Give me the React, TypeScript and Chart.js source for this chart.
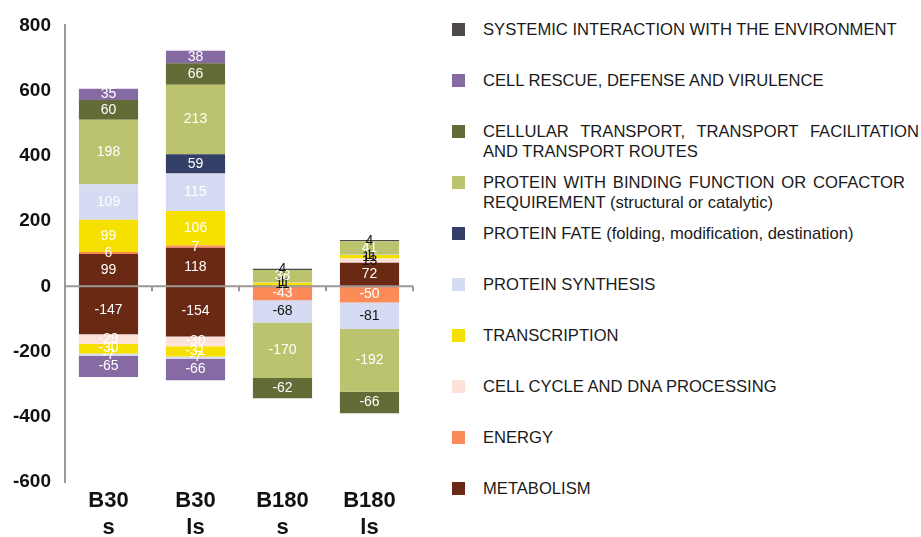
import React, { useEffect, useRef } from "react";
import { Chart, registerables } from "chart.js";

Chart.register(...registerables);

// ---- data ----
const categories = [["B30", "s"], ["B30", "ls"], ["B180", "s"], ["B180", "ls"]];

const seriesNames = [
  "METABOLISM",
  "ENERGY",
  "CELL CYCLE AND DNA PROCESSING",
  "TRANSCRIPTION",
  "PROTEIN SYNTHESIS",
  "PROTEIN FATE (folding, modification, destination)",
  "PROTEIN WITH BINDING FUNCTION OR COFACTOR REQUIREMENT (structural or catalytic)",
  "CELLULAR TRANSPORT, TRANSPORT FACILITATION AND TRANSPORT ROUTES",
  "CELL RESCUE, DEFENSE AND VIRULENCE",
  "SYSTEMIC INTERACTION WITH THE ENVIRONMENT",
];

// legend text split into display lines (same order as seriesNames)
const legendLines = [
  ["METABOLISM"],
  ["ENERGY"],
  ["CELL CYCLE AND DNA PROCESSING"],
  ["TRANSCRIPTION"],
  ["PROTEIN SYNTHESIS"],
  ["PROTEIN FATE (folding, modification, destination)"],
  ["PROTEIN WITH BINDING FUNCTION OR COFACTOR", "REQUIREMENT (structural or catalytic)"],
  ["CELLULAR TRANSPORT, TRANSPORT FACILITATION", "AND TRANSPORT ROUTES"],
  ["CELL RESCUE, DEFENSE AND VIRULENCE"],
  ["SYSTEMIC INTERACTION WITH THE ENVIRONMENT"],
];

const metabolismUp = [99, 118, 0, 72];
const metabolismDown = [-147, -154, 0, 0];
const energyUp = [6, 7, 0, 0];
const energyDown = [0, 0, -43, -50];
const cellCycleUp = [0, 0, 0, 13];
const cellCycleDown = [-29, -30, 0, 0];
const transcriptionUp = [99, 106, 11, 11];
const transcriptionDown = [-30, -31, 0, 0];
const synthesisUp = [109, 115, 1, 1];
const synthesisDown = [-7, -7, -68, -81];
const fateUp = [0, 59, 0, 0];
const fateDown = [0, 0, 0, 0];
const bindingUp = [198, 213, 38, 41];
const bindingDown = [0, 0, -170, -192];
const transportUp = [60, 66, 0, 0];
const transportDown = [0, 0, -62, -66];
const rescueUp = [35, 38, 0, 0];
const rescueDown = [-65, -66, 0, 0];
const systemicUp = [0, 0, 4, 4];
const systemicDown = [0, 0, 0, 0];

const upValues = [metabolismUp, energyUp, cellCycleUp, transcriptionUp, synthesisUp, fateUp, bindingUp, transportUp, rescueUp, systemicUp];
const downValues = [metabolismDown, energyDown, cellCycleDown, transcriptionDown, synthesisDown, fateDown, bindingDown, transportDown, rescueDown, systemicDown];

const yTicks = [-600, -400, -200, 0, 200, 400, 600, 800];

// ---- styles ----
const colors = [
  "#6a2913",
  "#fc8b5a",
  "#fde2da",
  "#f5e000",
  "#d5dbf2",
  "#333f66",
  "#bcc36f",
  "#636b37",
  "#866aa4",
  "#4d4a49",
];
const FONT = '"Liberation Sans", Arial, Helvetica, sans-serif';
const AXIS_GRAY = "#9b9897";

function darkLabel(series: number, cat: number, v: number) {
  if (cat < 2) return false;
  return series === 4 || series === 9 || Math.abs(v) <= 13;
}

const overlayPlugin = {
  id: "overlay",
  afterDatasetsDraw(chart: any) {
    const ctx = chart.ctx;
    const { left, right } = chart.chartArea;
    const y0 = chart.scales.y.getPixelForValue(0);
    const n = categories.length;
    ctx.save();
    // zero line with category boundary ticks
    ctx.strokeStyle = AXIS_GRAY;
    ctx.lineWidth = 2;
    ctx.beginPath();
    ctx.moveTo(left, y0);
    ctx.lineTo(right, y0);
    for (let i = 1; i <= n; i++) {
      const x = left + ((right - left) * i) / n;
      ctx.moveTo(x, y0);
      ctx.lineTo(x, y0 + 5);
    }
    ctx.stroke();
    // segment labels
    ctx.font = `14px ${FONT}`;
    ctx.textAlign = "center";
    ctx.textBaseline = "middle";
    chart.data.datasets.forEach((ds: any, di: number) => {
      const meta = chart.getDatasetMeta(di);
      meta.data.forEach((bar: any, i: number) => {
        const v = ds.data[i];
        if (!v) return;
        const p = bar.getProps(["x", "y", "base"], true);
        ctx.fillStyle = darkLabel(ds.seriesIndex, i, v) ? "#151515" : "#ffffff";
        ctx.fillText(String(v), p.x, (p.y + p.base) / 2);
      });
    });
    ctx.restore();
  },
};

export default function App() {
  const ref = useRef<HTMLCanvasElement>(null);

  useEffect(() => {
    if (!ref.current) return;
    const datasets: any[] = [];
    seriesNames.forEach((name, s) => {
      datasets.push({
        label: name,
        seriesIndex: s,
        data: upValues[s],
        backgroundColor: colors[s],
        borderWidth: 0,
        stack: "a",
        barPercentage: 0.68,
        categoryPercentage: 1,
      });
      datasets.push({
        label: name + " (neg)",
        seriesIndex: s,
        data: downValues[s],
        backgroundColor: colors[s],
        borderWidth: 0,
        stack: "a",
        barPercentage: 0.68,
        categoryPercentage: 1,
      });
    });
    const chart = new Chart(ref.current, {
      type: "bar",
      data: { labels: categories as any, datasets },
      plugins: [overlayPlugin],
      options: {
        animation: false,
        responsive: false,
        maintainAspectRatio: false,
        layout: { padding: { top: 18, right: 17, left: 0, bottom: 0 } },
        plugins: {
          legend: { display: false },
          tooltip: { enabled: false },
          title: { display: false },
        },
        scales: {
          x: {
            stacked: true,
            grid: { display: false, drawTicks: false },
            border: { display: false },
            ticks: {
              color: "#111111",
              font: { family: FONT, size: 22, weight: "bold", lineHeight: 1.25 },
              padding: 5,
              maxRotation: 0,
              autoSkip: false,
            },
            afterFit: (s: any) => {
              s.height = 55;
            },
          },
          y: {
            stacked: true,
            min: -600,
            max: 800,
            afterBuildTicks: (s: any) => {
              s.ticks = yTicks.map((v) => ({ value: v }));
            },
            grid: { display: false, drawTicks: false },
            border: { display: true, color: AXIS_GRAY, width: 2 },
            ticks: {
              color: "#111111",
              font: { family: FONT, size: 19, weight: "bold" },
              padding: 14,
            },
            afterFit: (s: any) => {
              s.width = 65;
            },
          },
        },
      } as any,
    });
    return () => chart.destroy();
  }, []);

  return (
    <div
      style={{
        position: "fixed",
        left: 0,
        top: 0,
        width: 921,
        height: 537,
        background: "#ffffff",
        overflow: "hidden",
      }}
    >
      <canvas ref={ref} width={430} height={537} style={{ position: "absolute", left: 0, top: 0, width: 430, height: 537 }} />
      {legendLines
        .map((lines, s) => ({ lines, s }))
        .reverse()
        .map(({ lines, s }, idx) => {
          const cy = 29 + idx * 51;
          return (
            <div key={s}>
              <div
                style={{
                  position: "absolute",
                  left: 452,
                  top: cy - 6.5,
                  width: 13,
                  height: 13,
                  background: colors[s],
                }}
              />
              {lines.map((line, li) => (
                <div
                  key={li}
                  style={{
                    position: "absolute",
                    left: 483,
                    top: cy - 9 + li * 19.5,
                    height: 20,
                    lineHeight: "20px",
                    width: lines.length > 1 && li === 0 ? (s === 7 ? 436 : 422) : undefined,
                    textAlign: lines.length > 1 && li === 0 ? "justify" : "left",
                    textAlignLast: lines.length > 1 && li === 0 ? "justify" : "left",
                    whiteSpace: lines.length > 1 && li === 0 ? "normal" : "nowrap",
                    fontFamily: FONT,
                    fontSize: 16.6,
                    color: "#1a1a1a",
                  } as any}
                >
                  {line}
                </div>
              ))}
            </div>
          );
        })}
    </div>
  );
}
